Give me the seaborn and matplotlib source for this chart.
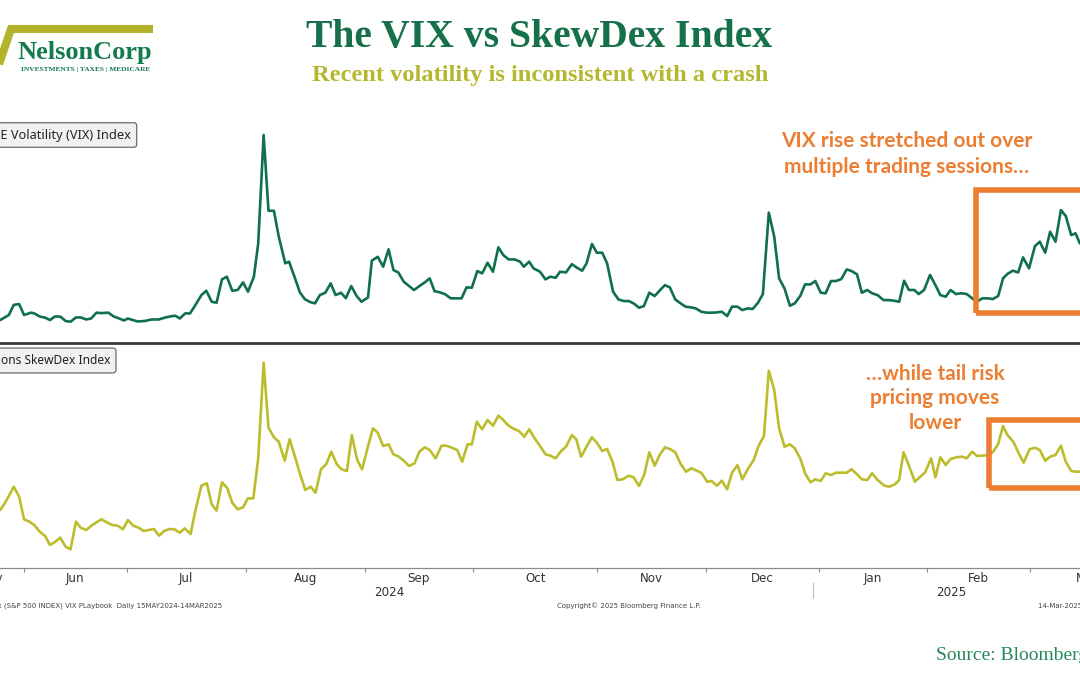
import matplotlib
matplotlib.use("Agg")
import matplotlib.pyplot as plt
import seaborn as sns
import pandas as pd
from matplotlib.patches import Rectangle
from matplotlib.lines import Line2D
from matplotlib.transforms import blended_transform_factory

# ---------------- data (x = trading day since 15-May-2024) ----------------
vix_day = [7.6, 9.2, 10.1, 11.1, 12.0, 13.3, 13.9, 14.9, 15.9, 16.8,
           17.7, 18.7, 19.7, 20.6, 21.6, 22.5, 23.5, 24.4, 25.4, 26.3,
           27.6, 28.6, 29.5, 30.5, 31.2, 32.1, 33.0, 34.3, 35.6, 36.9,
           38.1, 39.4, 40.0, 40.8, 41.8, 42.7, 43.7, 44.8, 45.7, 46.7,
           47.6, 48.6, 49.5, 50.5, 51.5, 52.5, 53.4, 54.5, 55.3, 56.3,
           57.2, 58.2, 59.1, 60.3, 61.0, 62.0, 63.0, 63.9, 64.9, 65.8,
           66.7, 67.7, 68.7, 69.6, 70.6, 71.5, 72.5, 73.5, 74.4, 75.6,
           76.3, 77.4, 78.4, 79.4, 80.3, 81.2, 82.2, 83.2, 84.1, 85.1,
           86.1, 87.0, 87.9, 88.9, 89.8, 90.9, 91.9, 92.9, 93.8, 94.8,
           95.8, 96.7, 97.7, 98.7, 99.7, 100.6, 101.6, 102.7, 103.7, 104.4,
           105.4, 106.2, 107.4,
           108.4, 109.3, 110.3, 111.1, 112.2, 113.3, 114.2, 115.2, 116.0, 117.0,
           117.9, 118.9, 119.8, 120.9, 121.9, 122.9, 123.8, 124.7, 125.7, 126.6,
           127.6, 128.6, 129.6, 130.5, 131.4, 132.4, 133.4, 134.3, 135.3, 136.2,
           137.2, 138.2, 139.1, 140.1, 141.0, 142.0, 142.9, 143.9, 144.8, 145.8,
           146.7, 147.7, 148.6, 149.7, 150.7, 151.6, 152.6, 153.6, 154.5, 155.5,
           156.4, 157.4, 158.3, 159.3, 160.2, 161.2, 162.1, 163.1, 164.1, 165.0,
           166.0, 166.9, 167.9, 168.8, 169.8, 170.9, 171.8, 172.8, 173.8, 174.7,
           175.6, 176.6, 177.4, 178.4, 179.5, 180.5, 181.4, 182.4, 183.3, 184.3,
           185.2, 186.3, 187.3, 188.1, 189.2, 190.2, 191.1, 192.1, 193.0, 193.8,
           194.8, 195.8, 196.7, 197.8, 198.9, 199.8, 200.8, 201.7, 202.7, 203.7,
           204.6, 205.6, 206.4, 207.2]
vix_val = [12.14, 12.86, 14.30, 14.43, 12.86, 13.19, 13.09, 12.64, 12.48, 12.14,
           12.64, 12.64, 12.00, 11.90, 12.51, 12.51, 12.22, 12.36, 13.19, 13.13,
           13.19, 12.64, 12.39, 12.08, 12.36, 12.14, 11.94, 12.00, 12.22, 12.22,
           12.50, 12.71, 12.75, 12.36, 13.09, 13.09, 14.30, 15.71, 16.33, 14.75,
           14.61, 17.95, 18.33, 16.33, 16.43, 17.52, 16.19, 18.33, 23.09, 38.57,
           27.75, 27.75, 24.05, 20.24, 20.48, 18.33, 16.09, 15.13, 14.71, 14.52,
           15.71, 16.04, 17.38, 15.71, 16.04, 15.26, 16.99, 15.57, 14.75, 15.37,
           20.62, 21.18, 19.76, 22.24, 19.28, 18.94, 17.62, 16.99, 16.43, 16.99,
           17.52, 18.09, 16.27, 16.09, 15.85, 15.24, 15.24, 15.24, 16.80, 16.76,
           19.14, 18.81, 20.33, 19.04, 22.53, 21.42, 20.80, 20.80, 20.48, 19.76,
           20.48, 19.52, 19.04,
           17.95, 18.33, 18.18, 19.04, 18.94, 20.13, 19.62, 19.19, 20.24, 23.01,
           21.76, 21.76, 20.24, 16.19, 15.08, 14.85, 14.85, 14.52, 13.90, 14.13,
           16.04, 15.57, 16.43, 17.13, 16.80, 15.08, 14.52, 14.05, 13.95, 13.80,
           13.33, 13.19, 13.19, 13.23, 13.33, 12.71, 14.05, 14.05, 13.56, 13.80,
           13.72, 14.61, 15.85, 27.48, 24.05, 18.09, 16.66, 14.18, 14.52, 15.57,
           17.23, 17.23, 17.71, 16.04, 15.96, 17.71, 17.71, 17.99, 19.37, 19.14,
           18.67, 16.04, 16.43, 15.96, 15.71, 14.99, 14.99, 14.91, 14.75, 17.75,
           16.43, 16.43, 15.85, 16.43, 18.58, 17.13, 15.71, 15.47, 16.43, 15.85,
           15.96, 15.85, 15.24, 14.75, 15.24, 15.24, 15.13, 15.57, 18.09, 18.72,
           19.19, 18.94, 21.09, 19.52, 22.70, 23.33, 21.76, 24.75, 23.33, 27.85,
           26.99, 24.28, 24.53, 23.09]

skew_day = [7.6, 8.5, 9.3, 10.1, 11.1, 12.0, 13.0, 13.9, 14.9, 15.9,
            16.8, 17.8, 18.7, 19.7, 20.6, 21.6, 22.5, 23.5, 24.4, 25.4,
            26.3, 27.3, 28.3, 29.3, 30.3, 31.2, 32.2, 33.2, 34.1, 35.1,
            36.0, 37.0, 37.9, 38.9, 39.8, 40.8, 41.7, 42.8, 43.7, 44.8,
            45.8, 46.7, 47.6, 48.6, 49.6, 50.5, 51.5, 52.5, 53.4, 54.4,
            55.3, 56.3, 57.2, 58.2, 59.1, 60.2, 61.1, 62.0, 63.0, 64.0,
            65.0, 65.9, 66.9, 67.9, 68.8, 69.8, 70.7, 71.7, 72.6, 73.6,
            74.5, 75.5, 76.5, 77.4, 78.4, 79.4, 80.3, 81.3, 82.2, 83.2,
            84.2, 85.1, 86.1, 87.0, 88.1, 89.2, 90.1, 91.1, 92.1, 93.0,
            94.0, 94.8, 95.7, 96.7, 97.7, 98.7, 99.7, 100.6, 101.6, 102.6,
            103.5, 104.5, 105.4, 106.4, 107.4,
            108.4, 109.3, 110.3, 111.2, 112.2, 113.3, 114.1, 115.0, 116.0, 117.0,
            117.9, 118.9, 119.8, 120.8, 121.7, 122.7, 123.8, 124.7, 125.7, 126.7,
            127.6, 128.6, 129.5, 130.5, 131.5, 132.4, 133.4, 134.4, 135.4, 136.4,
            137.2, 138.3, 139.1, 140.1, 141.0, 142.0, 142.9, 143.9, 144.8, 145.8,
            146.9, 147.8, 148.8, 149.7, 150.7, 151.6, 152.6, 153.6, 154.5, 155.5,
            156.4, 157.4, 158.3, 159.3, 160.2, 161.2, 162.1, 163.1, 164.1, 165.0,
            166.0, 166.9, 167.9, 168.8, 169.8, 171.1, 172.0, 173.0, 173.8, 174.6,
            175.4, 176.7, 177.6, 178.6, 179.7, 180.5, 181.4, 182.4, 183.3, 184.4,
            185.4, 186.3, 187.3, 188.2, 189.2, 190.2, 191.1, 192.1, 193.0, 193.8,
            194.9, 195.9, 196.8, 197.9, 198.9, 199.8, 200.8, 201.7, 202.7, 203.7,
            204.6, 205.6, 206.5, 207.2]
skew_val = [7.80, 8.53, 9.30, 10.13, 9.13, 6.87, 6.63, 6.30, 5.63, 5.20,
            4.30, 4.63, 5.03, 4.13, 3.87, 6.63, 6.03, 5.80, 6.20, 6.57,
            6.87, 6.57, 6.30, 6.23, 5.87, 6.80, 6.23, 6.03, 5.70, 5.80,
            5.90, 5.23, 5.70, 5.90, 5.87, 5.53, 5.97, 5.40, 7.80, 10.23,
            10.47, 8.37, 7.73, 10.57, 9.97, 8.53, 7.87, 8.07, 8.97, 8.97,
            12.97, 22.53, 16.03, 15.07, 14.63, 12.73, 14.87, 13.30, 11.47, 9.80,
            10.13, 9.53, 11.87, 12.40, 13.63, 12.40, 11.87, 11.70, 15.30, 12.80,
            11.87, 13.97, 15.97, 15.53, 14.20, 14.37, 13.37, 13.13, 12.73, 12.20,
            12.47, 13.63, 14.07, 13.80, 12.97, 14.23, 14.23, 14.03, 13.80, 12.63,
            14.37, 14.37, 16.63, 15.87, 16.80, 16.23, 17.23, 16.80, 16.23, 15.90,
            15.70, 15.13, 15.87, 14.97, 14.20,
            13.37, 13.23, 12.97, 13.63, 14.13, 15.30, 14.87, 13.13, 14.13, 15.07,
            14.53, 13.70, 13.90, 12.63, 10.80, 10.87, 11.23, 11.07, 10.20, 11.40,
            13.57, 12.23, 13.30, 14.07, 13.87, 13.57, 12.40, 11.63, 11.97, 11.73,
            11.53, 10.63, 10.70, 10.23, 10.73, 9.87, 11.53, 12.30, 10.87, 11.87,
            12.80, 14.20, 15.20, 21.73, 19.80, 15.97, 14.13, 14.37, 13.97, 12.97,
            11.47, 10.57, 10.87, 10.70, 11.47, 11.30, 11.53, 11.53, 11.53, 11.87,
            11.37, 10.87, 10.80, 11.47, 10.80, 10.23, 10.13, 10.37, 10.80, 13.57,
            12.53, 10.63, 11.07, 11.57, 12.97, 11.07, 13.07, 12.30, 12.90, 13.07,
            13.13, 12.97, 13.63, 13.20, 13.23, 13.30, 13.57, 14.40, 16.20, 15.30,
            14.63, 13.47, 12.53, 13.87, 14.03, 13.80, 12.73, 13.13, 13.30, 14.23,
            12.63, 11.70, 11.63, 11.63]

month_labels = ["May", "Jun", "Jul", "Aug", "Sep", "Oct", "Nov", "Dec", "Jan", "Feb", "Mar"]
month_start = [0, 12, 31, 53, 75, 95, 118, 138, 159, 179, 198, 219]
year_labels = ["2024", "2025"]
year_start = [0, 159, 208]

# ---------------- style ----------------
VIX_C = "#0f7049"
SKEW_C = "#bcbd2c"
ORANGE = "#ed7d31"
TITLE_C = "#16704a"
SUB_C = "#b5b72f"
SRC_C = "#27875a"

sns.set_theme(style="white")
plt.rcParams["font.family"] = ["DejaVu Sans"]

W, H = 1080, 675
fig = plt.figure(figsize=(W / 100, H / 100), dpi=100)
fig.patch.set_facecolor("white")

# layout: day -> pixel mapping of the reference
X0, X1 = -1, 219
PX0, PXD = -40.9, 5.409
L = PX0 + PXD * X0
R = PX0 + PXD * X1
ax1 = fig.add_axes([L / W, 1 - 343 / H, (R - L) / W, (343 - 118) / H])
ax2 = fig.add_axes([L / W, 1 - 568 / H, (R - L) / W, (568 - 343) / H])

vix_df = pd.DataFrame({"day": vix_day, "value": vix_val})
skew_df = pd.DataFrame({"day": skew_day, "value": skew_val})
sns.lineplot(data=vix_df, x="day", y="value", ax=ax1, color=VIX_C,
             linewidth=1.9, sort=False, estimator=None)
sns.lineplot(data=skew_df, x="day", y="value", ax=ax2, color=SKEW_C,
             linewidth=1.9, sort=False, estimator=None)

for ax in (ax1, ax2):
    ax.set_xlim(X0, X1)
    ax.set_xlabel("")
    ax.set_ylabel("")
    ax.set_yticks([])
    ax.set_facecolor("none")

ax1.set_ylim(8.86, 41.0)
ax1.set_xticks([])
for s in ax1.spines.values():
    s.set_visible(False)

ax2.set_ylim(2.0, 24.5)
ax2.spines["left"].set_visible(False)
ax2.spines["right"].set_visible(False)
ax2.spines["top"].set_color("#3a3a3a")
ax2.spines["top"].set_linewidth(2.0)
ax2.spines["bottom"].set_color("#8a8a8a")
ax2.spines["bottom"].set_linewidth(0.9)

mids = [(month_start[i] + month_start[i + 1]) / 2 for i in range(len(month_labels))]
ax2.set_xticks(month_start[1:-1])
ax2.set_xticklabels([])
ax2.set_xticks(mids, minor=True)
ax2.set_xticklabels(month_labels, minor=True)
ax2.tick_params(axis="x", which="major", direction="out", length=3, width=0.8,
                color="#8a8a8a", bottom=True)
ax2.tick_params(axis="x", which="minor", length=0, pad=3, labelsize=8.6,
                labelcolor="#333333", bottom=True)

trans = blended_transform_factory(ax2.transData, fig.transFigure)
for i, lab in enumerate(year_labels):
    xm = (year_start[i] + year_start[i + 1]) / 2
    ax2.text(xm, 1 - 592 / H, lab, transform=trans, ha="center", va="center",
             fontsize=8.6, color="#333333", clip_on=False)
ax2.plot([year_start[1] - 1.2, year_start[1] - 1.2], [1 - 583 / H, 1 - 598 / H],
         transform=trans, color="#bbbbbb", lw=0.8, clip_on=False)

# annotation boxes
ax1.add_patch(Rectangle((188.0, 13.14), 25, 30.71 - 13.14, fill=False,
                        ec=ORANGE, lw=4, clip_on=False, zorder=5))
ax2.add_patch(Rectangle((190.4, 10.0), 25, 16.8 - 10.0, fill=False,
                        ec=ORANGE, lw=4, clip_on=False, zorder=5))

# series labels
box_kw = dict(boxstyle="round,pad=0.45,rounding_size=0.25", fc="#f1f1f1", ec="#5a5a5a", lw=0.8)
fig.text(131 / W, 1 - 135 / H, "CBOE Volatility (VIX) Index", ha="right", va="center",
         fontsize=9.2, family=["Noto Sans", "DejaVu Sans"], color="#222222", bbox=box_kw)
box_kw2 = dict(boxstyle="round,pad=0.5,rounding_size=0.25", fc="#f1f1f1", ec="#5a5a5a", lw=0.8)
fig.text(110 / W, 1 - 360.5 / H, "Nations SkewDex Index", ha="right", va="center",
         fontsize=8.6, family=["Noto Sans", "DejaVu Sans"], color="#222222", bbox=box_kw2)

# orange commentary
fig.text(907 / W, 1 - 154 / H, "VIX rise stretched out over\nmultiple trading sessions…",
         ha="center", va="center", fontsize=15, fontweight="bold", color=ORANGE,
         family=["Lato", "DejaVu Sans"], linespacing=1.33)
fig.text(935 / W, 1 - 398.5 / H, "…while tail risk\npricing moves\nlower",
         ha="center", va="center", fontsize=15, fontweight="bold", color=ORANGE,
         family=["Lato", "DejaVu Sans"], linespacing=1.3)

# titles
fig.text(539 / W, 1 - 37 / H, "The VIX vs SkewDex Index", ha="center", va="center",
         fontsize=28.5, fontweight="bold", color=TITLE_C, family=["Liberation Serif", "DejaVu Serif"])
fig.text(540 / W, 1 - 75 / H, "Recent volatility is inconsistent with a crash", ha="center",
         va="center", fontsize=17.6, fontweight="bold", color=SUB_C,
         family=["Liberation Serif", "DejaVu Serif"])

# logo
fig.add_artist(Line2D(
    [-14 / W, -3 / W, 11 / W, 153 / W],
    [1 - 38 / H, 1 - 70 / H, 1 - 29 / H, 1 - 29 / H],
    transform=fig.transFigure, color="#b3b32b", lw=5.8, solid_joinstyle="miter",
    solid_capstyle="butt"))
fig.text(18 / W, 1 - 59 / H, "NelsonCorp", ha="left", va="baseline", fontsize=19,
         fontweight="bold", color="#137a4c", family=["Liberation Serif", "DejaVu Serif"])
fig.text(86 / W, 1 - 69 / H, "INVESTMENTS | TAXES | MEDICARE", ha="center", va="center",
         fontsize=5.3, fontweight="bold", color="#137a4c",
         family=["Liberation Serif", "DejaVu Serif"])

# footer
foot_kw = dict(fontsize=5, color="#444444", va="center")
fig.text(222 / W, 1 - 606 / H, "SPX Index (S&P 500 INDEX) VIX PLaybook  Daily 15MAY2024-14MAR2025",
         ha="right", **foot_kw)
fig.text(629 / W, 1 - 606 / H, "Copyright© 2025 Bloomberg Finance L.P.", ha="center", **foot_kw)
fig.text(1038 / W, 1 - 606 / H, "14-Mar-2025 11:08:48", ha="left", **foot_kw)
fig.text(936 / W, 1 - 655 / H, "Source: Bloomberg", ha="left", va="center", fontsize=14,
         color=SRC_C, family=["Liberation Serif", "DejaVu Serif"])

fig.savefig("out.png", dpi=100, facecolor="white")
